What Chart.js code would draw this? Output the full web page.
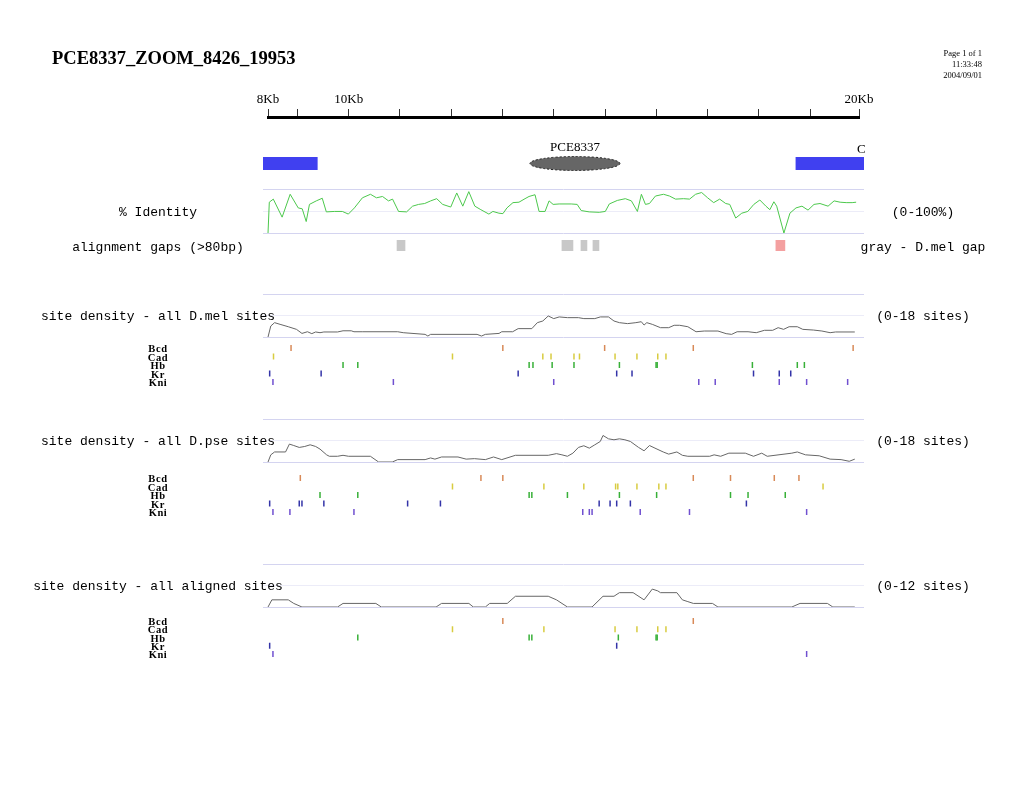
<!DOCTYPE html>
<html>
<head>
<meta charset="utf-8">
<title>PCE8337_ZOOM_8426_19953</title>
<script src="https://cdn.jsdelivr.net/npm/chart.js@4.4.1/dist/chart.umd.min.js"></script>
<style>
  body { margin: 0; background: #fff; }
  #page { position: relative; width: 1035px; height: 800px; overflow: hidden; background: #fff; }
  #page canvas { position: absolute; left: 0; top: 0; }
  .t { position: absolute; white-space: nowrap; line-height: 1; color: #000; }
  .c { transform: translate(-50%, -50%); }
  .title { font: bold 18.5px "Liberation Serif", serif; transform: translateY(-50%); }
  .stamp { font: 8.5px "Liberation Serif", serif; transform: translate(-100%, -50%); }
  .mono { font: 13px "Liberation Mono", "DejaVu Sans Mono", monospace; }
  .row { font: bold 10.5px "Liberation Serif", serif; letter-spacing: 0.6px; }
  .gene { font: 13px "Liberation Serif", serif; }
</style>
</head>
<body>
<div id="page"></div>
<script>
// -----------------------------------------------------------------------------
// Dados (posições em pb)
// -----------------------------------------------------------------------------
const RULER_TICKS = [8426, 9000, 10000, 11000, 12000, 13000, 14000, 15000, 16000, 17000, 18000, 19000, 19953];
const RULER_LABELS = { 8426: '8Kb', 10000: '10Kb', 19953: '20Kb' };
const TRACK_SPAN = [8328, 20051];

const GENE_BLOCKS = [[8330, 9387], [18723, 20050]];
const PROMOTER = [13535, 15290];

const IDENTITY_POS = [8426, 8451, 8529, 8701, 8858, 9015, 9093, 9171, 9234, 9367,
  9484, 9563, 9719, 9876, 9993, 10111, 10267, 10424, 10541, 10659,
  10776, 10855, 10972, 11129, 11246, 11364, 11481, 11599, 11716, 11833,
  11990, 12107, 12225, 12342, 12460, 12577, 12734, 12812, 12930, 13008,
  13086, 13204, 13321, 13439, 13517, 13634, 13713, 13830, 13908, 13987,
  14104, 14339, 14456, 14535, 14691, 14887, 15005, 15083, 15239, 15396,
  15514, 15631, 15709, 15788, 15866, 15983, 16140, 16257, 16375, 16531,
  16649, 16766, 16884, 17001, 17119, 17236, 17354, 17432, 17549, 17667,
  17784, 17902, 18019, 18137, 18215, 18293, 18348, 18489, 18606, 18724,
  18841, 18959, 19076, 19193, 19350, 19468, 19585, 19703, 19820, 19898];
const IDENTITY_PCT = [0, 70, 77, 36, 88, 57, 55, 26, 65, 73,
  79, 48, 49, 49, 43, 57, 80, 88, 80, 83,
  73, 77, 49, 48, 61, 65, 67, 73, 78, 65,
  59, 91, 61, 94, 61, 53, 43, 49, 45, 44,
  57, 69, 70, 78, 83, 87, 49, 49, 73, 65,
  66, 66, 65, 51, 48, 47, 49, 66, 74, 78,
  73, 49, 88, 65, 67, 84, 88, 84, 77, 78,
  77, 88, 92, 80, 69, 77, 67, 65, 34, 45,
  49, 65, 75, 61, 53, 71, 61, 0, 45, 57,
  61, 52, 65, 67, 61, 73, 70, 69, 69, 70];

const GAP_START = [10942, 14159, 14530, 14764, 18332];
const GAP_END = [11098, 14374, 14647, 14881, 18508];
const GAP_KIND = ['mel', 'mel', 'mel', 'mel', 'other'];

const MEL_POS = [8426, 8480, 8554, 8661, 8821, 8981, 9088, 9195, 9280, 9355,
  9440, 9515, 9782, 9889, 10049, 10102, 10263, 10956, 11063, 11490,
  11544, 11597, 12504, 12590, 12665, 12932, 12985, 13198, 13305, 13572,
  13679, 13786, 13892, 13999, 14106, 14266, 14480, 14586, 14800, 14907,
  15067, 15174, 15280, 15440, 15601, 15707, 15761, 15814, 15921, 16081,
  16241, 16348, 16455, 16615, 16775, 16935, 17202, 17362, 17469, 17576,
  17789, 17949, 18109, 18270, 18376, 18483, 18590, 18750, 18857, 19070,
  19230, 19390, 19497, 19871];
const MEL_DENSITY = [0, 4.6, 6.0, 5.3, 4.3, 3.2, 1.5, 2.2, 1.4, 2.1,
  1.8, 2.1, 2.1, 2.6, 2.6, 2.2, 2.2, 2.2, 1.8, 1.1,
  0.4, 1.1, 1.1, 0.4, 1.1, 1.5, 2.2, 2.2, 3.5, 3.5,
  6.0, 6.7, 8.8, 7.7, 8.4, 8.1, 8.1, 7.7, 7.7, 8.4,
  8.4, 6.7, 6.0, 5.6, 6.0, 6.4, 5.0, 6.0, 5.3, 3.9,
  3.9, 4.9, 4.9, 4.3, 2.2, 2.5, 2.5, 1.4, 1.1, 2.2,
  2.2, 1.8, 2.8, 2.8, 3.9, 3.2, 4.3, 4.3, 3.2, 2.9,
  2.5, 1.8, 2.1, 2.1];

const PSE_POS = [8426, 8480, 8554, 8768, 8843, 8928, 9035, 9142, 9248, 9355,
  9440, 9569, 9622, 9782, 9889, 9996, 10423, 10583, 10850, 10956,
  11490, 11597, 11682, 11811, 12131, 12291, 12451, 12665, 12825, 12985,
  13252, 13892, 14052, 14159, 14266, 14373, 14480, 14586, 14693, 14800,
  14907, 14960, 15067, 15174, 15280, 15387, 15494, 15654, 15761, 15867,
  15974, 16134, 16241, 16401, 16508, 16615, 17042, 17127, 17255, 17415,
  17736, 17896, 18056, 18163, 18643, 18750, 18910, 19177, 19390, 19604,
  19764, 19871];
const PSE_DENSITY = [0, 3.0, 4.2, 4.2, 7.5, 6.9, 6.1, 6.5, 7.2, 6.5,
  5.4, 3.0, 2.4, 2.4, 2.8, 2.4, 2.4, 0, 0, 1.0,
  1.0, 1.7, 1.2, 2.1, 2.1, 1.2, 1.4, 1.0, 2.1, 1.0,
  2.8, 2.8, 3.5, 3.0, 2.4, 3.7, 6.1, 6.8, 5.8, 7.2,
  8.6, 11.1, 9.7, 9.3, 9.7, 9.3, 8.6, 6.1, 4.7, 6.9,
  5.8, 4.2, 3.3, 4.2, 2.8, 2.4, 2.4, 3.0, 2.4, 3.7,
  3.7, 2.4, 3.7, 2.4, 3.7, 4.2, 3.0, 2.6, 1.2, 1.0,
  0.3, 1.2];

const ALN_POS = [8426, 8501, 8821, 8928, 9088, 9782, 9889, 10529, 10636, 11704,
  11811, 12344, 12430, 12665, 12750, 13092, 13252, 13892, 14052, 14266,
  14746, 14960, 15174, 15280, 15547, 15761, 15921, 16028, 16081, 16401,
  16508, 16615, 16722, 17095, 17202, 18643, 18803, 19337, 19443, 19871];
const ALN_DENSITY = [0, 2, 2, 1, 0, 0, 1, 1, 0, 0,
  1, 1, 0, 0, 1, 1, 3, 3, 2, 0,
  0, 3, 3, 4, 4, 2, 5, 4.5, 4, 4,
  2, 1.5, 1, 1, 0, 0, 1, 1, 0, 0];

// Sítios por fator, na ordem de FACTORS
const FACTORS = ['Bcd', 'Cad', 'Hb', 'Kr', 'Kni'];
const MEL_SITES = [
  [8875, 13006, 14992, 16721, 19839],
  [8533, 12024, 13786, 13946, 14394, 14501, 15195, 15622, 16028, 16188],
  [9889, 10177, 13519, 13594, 13968, 14394, 15280, 15995, 16017, 17874, 18750, 18888],
  [8458, 9462, 13305, 15227, 15526, 17896, 18398, 18622],
  [8522, 10871, 13999, 16828, 17149, 18398, 18932, 19732]
];
const PSE_SITES = [
  [9056, 12579, 13006, 16721, 17447, 18301, 18782],
  [12024, 13807, 14586, 15206, 15249, 15622, 16049, 16188, 19252],
  [9440, 10177, 13519, 13572, 14266, 15280, 16006, 17447, 17789, 18515],
  [8458, 9035, 9088, 9515, 11149, 11789, 14885, 15098, 15227, 15494, 17757],
  [8522, 8853, 10102, 14565, 14693, 14747, 15686, 16647, 18932]
];
const ALN_SITES = [
  [13006, 16721],
  [12024, 13807, 15195, 15622, 16028, 16188],
  [10177, 13519, 13572, 15259, 15995, 16017],
  [8458, 15227],
  [8522, 18932]
];

// -----------------------------------------------------------------------------
// Cores
// -----------------------------------------------------------------------------
const FACTOR_COLORS = ['#d88a58', '#d8cc40', '#38b038', '#3434a8', '#7050d0'];
const LAVENDER = '#d4d4f0';
const LAVENDER_MID = '#ececf8';

const W = 1035, H = 800;
const page = document.getElementById('page');

// Cada trilha é um gráfico em canvas de página inteira; o padding posiciona a área
function addChart(area, config) {
    const canvas = document.createElement('canvas');
    canvas.width = W;
    canvas.height = H;
    page.appendChild(canvas);
    const opts = config.options || {};
    opts.responsive = false;
    opts.animation = false;
    opts.events = [];
    opts.layout = { padding: { left: area.left, right: W - area.right, top: area.top, bottom: H - area.bottom } };
    opts.plugins = Object.assign({ legend: { display: false }, tooltip: { enabled: false } }, opts.plugins || {});
    config.options = opts;
    return new Chart(canvas, config);
}

function trackX() {
    return { type: 'linear', min: TRACK_SPAN[0], max: TRACK_SPAN[1], display: false };
}

// Eixo y sem rótulos, só as linhas lavanda (base, meio, topo)
function gridY(max) {
    return {
        type: 'linear', min: 0, max: max,
        afterBuildTicks: s => { s.ticks = [{ value: 0 }, { value: max / 2 }, { value: max }]; },
        afterFit: s => { s.width = 0; },
        ticks: { display: false },
        border: { display: false },
        grid: { drawTicks: false, color: c => (c.tick && c.tick.value === max / 2) ? LAVENDER_MID : LAVENDER }
    };
}

function lineTrack(area, pos, vals, max, color) {
    addChart(area, {
        type: 'line',
        data: { datasets: [{ data: pos.map((x, i) => ({ x: x, y: vals[i] })), borderColor: color, borderWidth: 1, pointRadius: 0, tension: 0 }] },
        options: { scales: { x: trackX(), y: gridY(max) } }
    });
}

function siteTrack(area, sites) {
    addChart(area, {
        type: 'scatter',
        data: {
            datasets: FACTORS.map((f, i) => ({
                label: f,
                data: sites[i].map(x => ({ x: x, y: i })),
                pointStyle: 'line', pointRotation: 90, pointRadius: 3,
                pointBorderColor: FACTOR_COLORS[i], pointBorderWidth: 1.5
            }))
        },
        options: { scales: { x: trackX(), y: { type: 'linear', min: -0.5, max: 4.5, reverse: true, display: false } } }
    });
}

// -----------------------------------------------------------------------------
// Régua (eixo x no topo; a área do gráfico começa logo abaixo da linha)
// -----------------------------------------------------------------------------
addChart({ left: 268, right: 859, top: 87, bottom: 119 }, {
    type: 'line',
    data: { datasets: [] },
    options: {
        scales: {
            x: {
                type: 'linear', position: 'top', min: RULER_TICKS[0], max: RULER_TICKS[RULER_TICKS.length - 1],
                afterBuildTicks: s => { s.ticks = RULER_TICKS.map(v => ({ value: v })); },
                afterFit: s => { s.height = 30; },
                border: { display: true, color: '#000', width: 3 },
                grid: { drawOnChartArea: false, tickLength: 8, color: '#333', lineWidth: 1 },
                ticks: {
                    autoSkip: false, maxRotation: 0, padding: 2, color: '#000',
                    font: { family: 'Liberation Serif', size: 13 },
                    callback: v => RULER_LABELS[v] || ''
                }
            },
            y: { display: false }
        }
    }
});

// -----------------------------------------------------------------------------
// Genes e promotor
// -----------------------------------------------------------------------------
const promoterPlugin = {
    id: 'promoter',
    afterDatasetsDraw(chart) {
        const x = chart.scales.x, a = chart.chartArea, ctx = chart.ctx;
        const x0 = x.getPixelForValue(PROMOTER[0]), x1 = x.getPixelForValue(PROMOTER[1]);
        ctx.save();
        ctx.beginPath();
        ctx.ellipse((x0 + x1) / 2, (a.top + a.bottom) / 2, (x1 - x0) / 2, 7, 0, 0, Math.PI * 2);
        ctx.fillStyle = '#666';
        ctx.fill();
        ctx.setLineDash([2, 2]);
        ctx.strokeStyle = '#222';
        ctx.lineWidth = 1;
        ctx.stroke();
        ctx.restore();
    }
};
addChart({ left: 263, right: 864, top: 157, bottom: 170 }, {
    type: 'bar',
    data: { labels: ['genes'], datasets: [{ data: GENE_BLOCKS.map(b => ({ x: b, y: 'genes' })), backgroundColor: '#4040f0', barPercentage: 1, categoryPercentage: 1 }] },
    options: { indexAxis: 'y', scales: { x: trackX(), y: { type: 'category', display: false } } },
    plugins: [promoterPlugin]
});

// -----------------------------------------------------------------------------
// % identidade e lacunas de alinhamento
// -----------------------------------------------------------------------------
lineTrack({ left: 263, right: 864, top: 189, bottom: 233 }, IDENTITY_POS, IDENTITY_PCT, 100, '#4cc84c');

addChart({ left: 263, right: 864, top: 240, bottom: 251 }, {
    type: 'bar',
    data: {
        labels: ['gaps'],
        datasets: [{
            data: GAP_START.map((s, i) => ({ x: [s, GAP_END[i]], y: 'gaps' })),
            backgroundColor: GAP_KIND.map(k => k === 'mel' ? '#c8c8c8' : '#f4a0a0'),
            barPercentage: 1, categoryPercentage: 1
        }]
    },
    options: { indexAxis: 'y', scales: { x: trackX(), y: { type: 'category', display: false } } }
});

// -----------------------------------------------------------------------------
// Densidade de sítios + marcas por fator
// -----------------------------------------------------------------------------
lineTrack({ left: 263, right: 864, top: 294, bottom: 337 }, MEL_POS, MEL_DENSITY, 18, '#666');
siteTrack({ left: 263, right: 864, top: 343.75, bottom: 386.25 }, MEL_SITES);

lineTrack({ left: 263, right: 864, top: 419, bottom: 462 }, PSE_POS, PSE_DENSITY, 18, '#666');
siteTrack({ left: 263, right: 864, top: 473.75, bottom: 516.25 }, PSE_SITES);

lineTrack({ left: 263, right: 864, top: 564, bottom: 607 }, ALN_POS, ALN_DENSITY, 12, '#666');
siteTrack({ left: 263, right: 864, top: 616.9, bottom: 658.1 }, ALN_SITES);

// -----------------------------------------------------------------------------
// Textos
// -----------------------------------------------------------------------------
function text(x, y, str, cls) {
    const d = document.createElement('div');
    d.className = 't ' + cls;
    d.style.left = x + 'px';
    d.style.top = y + 'px';
    d.textContent = str;
    page.appendChild(d);
}

text(52, 58, 'PCE8337_ZOOM_8426_19953', 'title');
text(982, 53, 'Page 1 of 1', 'stamp');
text(982, 64, '11:33:48', 'stamp');
text(982, 75, '2004/09/01', 'stamp');

text(575, 147, 'PCE8337', 'gene c');
text(857, 141, 'C', 'gene');

const leftLabels = [[212, '% Identity'], [247, 'alignment gaps (>80bp)'], [316, 'site density - all D.mel sites'],
    [441, 'site density - all D.pse sites'], [586, 'site density - all aligned sites']];
const rightLabels = [[212, '(0-100%)'], [247, 'gray - D.mel gap'], [316, '(0-18 sites)'], [441, '(0-18 sites)'], [586, '(0-12 sites)']];
leftLabels.forEach(l => text(158, l[0], l[1], 'mono c'));
rightLabels.forEach(l => text(923, l[0], l[1], 'mono c'));

[[348, 8.5], [478, 8.5], [621, 8.25]].forEach(r => {
    FACTORS.forEach((f, i) => text(158, r[0] + i * r[1], f, 'row c'));
});
</script>
</body>
</html>
